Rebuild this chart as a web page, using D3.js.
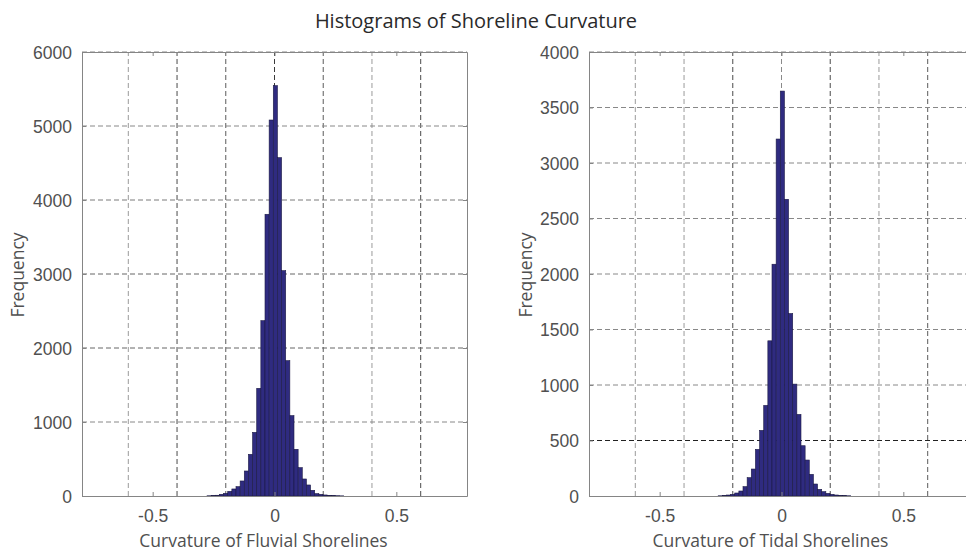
<!DOCTYPE html>
<html>
<head>
<meta charset="utf-8">
<script src="https://cdn.jsdelivr.net/npm/d3@7"></script>
<style>
  html, body { margin: 0; padding: 0; background: #fff; }
  svg { display: block; font-family: "Open Sans", "Noto Sans", sans-serif; }
</style>
</head>
<body>
<svg id="chart" width="966" height="552"></svg>
<script>
// Histogram bins shared by both panels
const binWidth = 0.017;

// Fluvial shorelines: counts per bin, first bin starts at fluvialStart
const fluvialStart = -0.277;
const fluvialCounts = [3, 6, 10,
  23, 36, 63, 95, 126, 203, 338, 563, 860, 1455, 2369, 3807, 5081,
  5545,
  4572, 3045, 1829, 1086, 631, 383, 230, 149, 77, 32, 23,
  14, 9, 6, 4, 2];

// Tidal shorelines: counts per bin, first bin starts at tidalStart
const tidalStart = -0.26;
const tidalCounts = [2, 5, 9,
  15, 27, 45, 84, 165, 243, 420, 591, 816, 1398, 2088, 3216,
  3648,
  2673, 1644, 1008, 735, 453, 324, 195, 108, 60, 39, 24, 15,
  9, 5, 3, 2];

// Axis limits and ticks
const xDomain = [-0.79, 0.79];
const xTickLabels = [-0.5, 0, 0.5];
const xGridValues = [-0.6, -0.4, -0.2, 0, 0.2, 0.4, 0.6];
const fluvialYTicks = [0, 1000, 2000, 3000, 4000, 5000, 6000];
const tidalYTicks = [0, 500, 1000, 1500, 2000, 2500, 3000, 3500, 4000];

// Grid line shades (per grid value)
const fluvialXGridShade = ["#9a9a9a", "#4a4a4a", "#5a5a5a", "#3a3a3a", "#5a5a5a", "#9a9a9a", "#4a4a4a"];
const fluvialYGridShade = ["#888", "#666", "#666", "#7a7a7a", "#888", "#888"];
const tidalXGridShade = ["#9a9a9a", "#9a9a9a", "#4a4a4a", "#8a8a8a", "#4a4a4a", "#9a9a9a", "#5a5a5a"];
const tidalYGridShade = ["#222", "#888", "#888", "#888", "#888", "#888", "#888", "#888"];

const svg = d3.select("#chart");
const textColor = "#505050";

svg.append("text")
  .attr("x", 476).attr("y", 28)
  .attr("text-anchor", "middle")
  .attr("font-size", 20)
  .attr("fill", "#2a2a2a")
  .text("Histograms of Shoreline Curvature");

// plain numbers with an ASCII hyphen for negatives
const plainFormat = d => String(d);

function drawPanel(opt) {
  const x = d3.scaleLinear().domain(xDomain).range([opt.left, opt.right]);
  const y = d3.scaleLinear().domain([0, opt.yMax]).range([496, 52]);
  const g = svg.append("g");

  // vertical grid
  g.append("g").selectAll("line").data(xGridValues).join("line")
    .attr("x1", d => x(d)).attr("x2", d => x(d))
    .attr("y1", y(0)).attr("y2", y(opt.yMax))
    .attr("stroke", (d, i) => opt.xShade[i])
    .attr("stroke-width", 1)
    .attr("stroke-dasharray", "5,3");

  // horizontal grid
  g.append("g").selectAll("line").data(opt.yTicks.slice(1, -1).concat([opt.yMax])).join("line")
    .attr("x1", x(xDomain[0])).attr("x2", x(xDomain[1]))
    .attr("y1", d => y(d)).attr("y2", d => y(d))
    .attr("stroke", (d, i) => opt.yShade[i] || "#888")
    .attr("stroke-width", 1)
    .attr("stroke-dasharray", "5,3");

  // bars
  const bins = opt.counts.map((c, i) => ({
    x0: opt.start + i * binWidth,
    x1: opt.start + (i + 1) * binWidth,
    count: c
  }));
  g.append("g").selectAll("rect").data(bins).join("rect")
    .attr("x", d => x(d.x0))
    .attr("width", d => x(d.x1) - x(d.x0))
    .attr("y", d => y(d.count))
    .attr("height", d => y(0) - y(d.count))
    .attr("fill", "#2f2b80")
    .attr("stroke", "#1c1a44")
    .attr("stroke-width", 0.6);

  const axisColor = "#858585";
  const styleAxis = sel => {
    sel.select(".domain").attr("stroke", axisColor);
    sel.selectAll(".tick line").attr("stroke", axisColor);
    sel.selectAll("text").attr("fill", textColor).attr("font-size", 17.5).attr("font-family", null);
  };

  // bottom axis
  g.append("g").attr("transform", `translate(0,${y(0)})`)
    .call(d3.axisBottom(x).tickValues(xTickLabels).tickSizeInner(-4).tickSizeOuter(0)
      .tickFormat(plainFormat))
    .call(styleAxis)
    .call(a => a.selectAll("text").attr("y", 26).attr("dy", null));
  // top axis
  g.append("g").attr("transform", `translate(0,${y(opt.yMax)})`)
    .call(d3.axisTop(x).tickValues(xTickLabels).tickSizeInner(-4).tickSizeOuter(0).tickFormat(""))
    .call(styleAxis);
  // left axis
  g.append("g").attr("transform", `translate(${x(xDomain[0])},0)`)
    .call(d3.axisLeft(y).tickValues(opt.yTicks).tickSizeInner(-4).tickSizeOuter(0).tickFormat(plainFormat))
    .call(styleAxis)
    .call(a => a.selectAll("text").attr("x", -10).attr("dy", "0.36em"));
  // right axis
  g.append("g").attr("transform", `translate(${x(xDomain[1])},0)`)
    .call(d3.axisRight(y).tickValues(opt.yTicks).tickSizeInner(-4).tickSizeOuter(0).tickFormat(""))
    .call(styleAxis);

  // axis titles
  g.append("text")
    .attr("x", (opt.left + opt.right) / 2 - 11).attr("y", 547)
    .attr("text-anchor", "middle")
    .attr("font-size", 17.5)
    .attr("fill", textColor)
    .text(opt.xLabel);
  g.append("text")
    .attr("transform", `translate(${opt.yLabelX},275) rotate(-90)`)
    .attr("text-anchor", "middle")
    .attr("font-size", 17.5)
    .attr("fill", textColor)
    .text("Frequency");
}

drawPanel({
  left: 82, right: 467, yMax: 6000, yTicks: fluvialYTicks,
  counts: fluvialCounts, start: fluvialStart,
  xShade: fluvialXGridShade, yShade: fluvialYGridShade,
  xLabel: "Curvature of Fluvial Shorelines", yLabelX: 24
});
drawPanel({
  left: 589, right: 974, yMax: 4000, yTicks: tidalYTicks,
  counts: tidalCounts, start: tidalStart,
  xShade: tidalXGridShade, yShade: tidalYGridShade,
  xLabel: "Curvature of Tidal Shorelines", yLabelX: 532
});
</script>
</body>
</html>
